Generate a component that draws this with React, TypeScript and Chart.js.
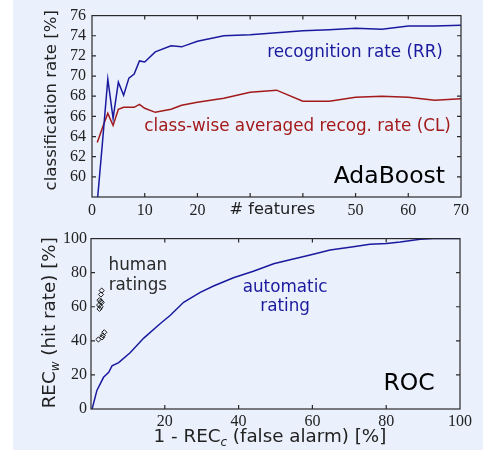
import React, { useEffect, useRef } from 'react';
import { Chart, registerables } from 'chart.js';
Chart.register(...registerables);

// ---- AdaBoost panel data ----
const features = [1, 2, 3, 4, 5, 6, 7, 8, 9, 10, 12, 15, 17, 20, 25, 30, 35, 40, 45, 50, 55, 60, 65, 70];
const recognitionRate = [57.5, 63.5, 69.7, 65.8, 69.4, 68.1, 69.8, 70.2, 71.5, 71.4, 72.4, 73.0, 72.9, 73.45, 74.0, 74.1, 74.3, 74.5, 74.6, 74.75, 74.65, 74.97, 74.97, 75.04];
const classwiseRate = [63.4, 64.9, 66.3, 65.1, 66.7, 66.9, 66.9, 66.9, 67.2, 66.8, 66.4, 66.7, 67.1, 67.4, 67.8, 68.4, 68.6, 67.5, 67.5, 67.9, 68.0, 67.9, 67.6, 67.75];
const topYTicksHidden = [58];
const topXTicksHidden = [30, 40];

// ---- ROC panel data ----
const falseAlarm = [0.3, 1.6, 3.4, 4.8, 5.7, 7.5, 10.6, 14.3, 18.8, 21.5, 25.1, 29.6, 33.2, 38.6, 44, 49.5, 53.1, 59.4, 64.8, 71.1, 75.6, 80.1, 83.8, 89.2, 92.8, 100];
const hitRate = [0, 10.9, 18.6, 21.5, 25.3, 27.2, 33, 41.6, 50.2, 55, 62.6, 68.4, 72.2, 77, 80.8, 85.2, 87.2, 90.4, 93.3, 95.2, 96.7, 97.1, 98, 99.6, 100, 100];
const humanFalseAlarm = [2.9, 2.7, 2.3, 2.7, 2.9, 2.2, 2.6, 2.3, 3.6, 3.2, 2.0, 3.0];
const humanHitRate = [69.5, 67.2, 63.8, 63.2, 62.5, 61, 60, 58.8, 45, 43.2, 40.8, 42];
const rocXTicksHidden = [0];

const BLUE = '#1a1a9e';
const RED = '#a31a1a';
const SANS = '"DejaVu Sans", sans-serif';
const SERIF = '"Liberation Serif", serif';
const PAGE_BG = 'linear-gradient(to right, #ffffff 0px, #ffffff 13px, #eaf0fc 13px, #eaf0fc 100%)';

type Part = { t: string; sub?: boolean };

function drawRich(ctx: CanvasRenderingContext2D, parts: Part[], cx: number, cy: number, rot: number, size: number, color: string) {
  ctx.save();
  const fontMain = `${size}px ${SANS}`;
  const fontSub = `italic ${Math.round(size * 0.68)}px ${SANS}`;
  let total = 0;
  const widths = parts.map((p) => {
    ctx.font = p.sub ? fontSub : fontMain;
    const w = ctx.measureText(p.t).width;
    total += w;
    return w;
  });
  ctx.translate(cx, cy);
  ctx.rotate(rot);
  ctx.fillStyle = color;
  ctx.textBaseline = 'middle';
  ctx.textAlign = 'left';
  let x = -total / 2;
  parts.forEach((p, i) => {
    ctx.font = p.sub ? fontSub : fontMain;
    ctx.fillText(p.t, x, p.sub ? size * 0.32 : 0);
    x += widths[i];
  });
  ctx.restore();
}

const frameTicks = {
  id: 'frameTicks',
  afterDatasetsDraw(chart: any) {
    const { ctx, chartArea: a, scales } = chart;
    ctx.save();
    ctx.strokeStyle = '#2a2a2a';
    ctx.lineWidth = 1.2;
    ctx.strokeRect(a.left, a.top, a.right - a.left, a.bottom - a.top);
    const L = 4;
    ctx.beginPath();
    scales.x.ticks.forEach((t: any) => {
      const px = scales.x.getPixelForValue(t.value);
      if (px <= a.left + 1 || px >= a.right - 1) return;
      ctx.moveTo(px, a.bottom); ctx.lineTo(px, a.bottom - L);
      ctx.moveTo(px, a.top); ctx.lineTo(px, a.top + L);
    });
    scales.y.ticks.forEach((t: any) => {
      const py = scales.y.getPixelForValue(t.value);
      if (py <= a.top + 1 || py >= a.bottom - 1) return;
      ctx.moveTo(a.left, py); ctx.lineTo(a.left + L, py);
      ctx.moveTo(a.right, py); ctx.lineTo(a.right - L, py);
    });
    ctx.stroke();
    ctx.restore();
  },
};

function makeTextPlugin(draw: (chart: any) => void) {
  return { id: 'texts', afterDraw: draw };
}

const tickFont = { family: SERIF, size: 16 };

function TopChart() {
  const ref = useRef<HTMLCanvasElement>(null);
  useEffect(() => {
    const textPlugin = makeTextPlugin((chart: any) => {
      const { ctx, scales, chartArea: a } = chart;
      const x = scales.x, y = scales.y;
      ctx.save();
      ctx.textAlign = 'center';
      ctx.textBaseline = 'middle';
      ctx.font = `16.8px ${SANS}`;
      ctx.fillStyle = BLUE;
      ctx.fillText('recognition rate (RR)', x.getPixelForValue(49.9), y.getPixelForValue(72.35));
      ctx.fillStyle = RED;
      ctx.fillText('class-wise averaged recog. rate (CL)', x.getPixelForValue(39.0), y.getPixelForValue(64.95));
      ctx.fillStyle = '#000';
      ctx.font = `23.5px ${SANS}`;
      ctx.fillText('AdaBoost', x.getPixelForValue(56.4), y.getPixelForValue(59.95));
      ctx.fillStyle = '#222';
      ctx.font = `16.2px ${SANS}`;
      ctx.fillText('# features', x.getPixelForValue(34.2), a.bottom + 13);
      ctx.restore();
      drawRich(ctx, [{ t: 'classification rate [%]' }], a.left - 40, y.getPixelForValue(67.6), -Math.PI / 2, 16.6, '#222');
    });
    const chart = new Chart(ref.current!, {
      type: 'line',
      data: {
        datasets: [
          { data: features.map((f, i) => ({ x: f, y: recognitionRate[i] })), borderColor: BLUE, borderWidth: 1.5, pointRadius: 0, tension: 0 },
          { data: features.map((f, i) => ({ x: f, y: classwiseRate[i] })), borderColor: RED, borderWidth: 1.5, pointRadius: 0, tension: 0 },
        ],
      },
      options: {
        animation: false,
        responsive: false,
        layout: { padding: { left: 0, right: 22, top: 15, bottom: 0 } },
        plugins: { legend: { display: false }, tooltip: { enabled: false } },
        scales: {
          x: {
            type: 'linear', min: 0, max: 70,
            grid: { display: false, drawTicks: false }, border: { display: false },
            ticks: { stepSize: 10, padding: 4, font: tickFont, color: '#222', maxRotation: 0, autoSkip: false,
              callback: (v: any) => (topXTicksHidden.includes(v) ? '' : String(v)) },
            afterFit: (s: any) => { s.height = 28; },
          },
          y: {
            min: 58, max: 76,
            grid: { display: false, drawTicks: false }, border: { display: false },
            ticks: { stepSize: 2, padding: 6, font: tickFont, color: '#222', autoSkip: false,
              callback: (v: any) => (topYTicksHidden.includes(v) ? '' : String(v)) },
            afterFit: (s: any) => { s.width = 92; },
          },
        },
      },
      plugins: [frameTicks, textPlugin],
    } as any);
    return () => chart.destroy();
  }, []);
  return <canvas ref={ref} width={483} height={225} style={{ position: 'absolute', left: 0, top: 0, width: 483, height: 225 }} />;
}

function RocChart() {
  const ref = useRef<HTMLCanvasElement>(null);
  useEffect(() => {
    const textPlugin = makeTextPlugin((chart: any) => {
      const { ctx, scales, chartArea: a } = chart;
      const x = scales.x, y = scales.y;
      ctx.save();
      ctx.textAlign = 'center';
      ctx.textBaseline = 'middle';
      ctx.font = `16.8px ${SANS}`;
      ctx.fillStyle = '#2a2a2a';
      ctx.fillText('human', x.getPixelForValue(12.7), y.getPixelForValue(83.9));
      ctx.fillText('ratings', x.getPixelForValue(12.7), y.getPixelForValue(72.4));
      ctx.fillStyle = BLUE;
      ctx.fillText('automatic', x.getPixelForValue(52.6), y.getPixelForValue(71.3));
      ctx.fillText('rating', x.getPixelForValue(52.6), y.getPixelForValue(59.8));
      ctx.fillStyle = '#000';
      ctx.font = `23.5px ${SANS}`;
      ctx.fillText('ROC', x.getPixelForValue(86.2), y.getPixelForValue(14.9));
      ctx.restore();
      drawRich(ctx, [{ t: 'REC' }, { t: 'w', sub: true }, { t: ' (hit rate) [%]' }], a.left - 41, y.getPixelForValue(50.6), -Math.PI / 2, 18.3, '#222');
      drawRich(ctx, [{ t: '1 - REC' }, { t: 'c', sub: true }, { t: ' (false alarm) [%]' }], x.getPixelForValue(48.5), a.bottom + 28, 0, 18.3, '#222');
    });
    const chart = new Chart(ref.current!, {
      type: 'scatter',
      data: {
        datasets: [
          { data: falseAlarm.map((f, i) => ({ x: f, y: hitRate[i] })), showLine: true, borderColor: BLUE, borderWidth: 1.5, pointRadius: 0, tension: 0 },
          { data: humanFalseAlarm.map((f, i) => ({ x: f, y: humanHitRate[i] })), showLine: false, pointStyle: 'rectRot', pointRadius: 2.6, borderColor: '#1a1a1a', borderWidth: 1, backgroundColor: 'rgba(0,0,0,0)' },
        ],
      },
      options: {
        animation: false,
        responsive: false,
        layout: { padding: { left: 0, right: 23, top: 10, bottom: 0 } },
        plugins: { legend: { display: false }, tooltip: { enabled: false } },
        scales: {
          x: {
            type: 'linear', min: 0, max: 100,
            grid: { display: false, drawTicks: false }, border: { display: false },
            ticks: { stepSize: 20, padding: 3, font: tickFont, color: '#222', maxRotation: 0, autoSkip: false,
              callback: (v: any) => (rocXTicksHidden.includes(v) ? '' : String(v)) },
            afterFit: (s: any) => { s.height = 41; },
          },
          y: {
            min: 0, max: 100,
            grid: { display: false, drawTicks: false }, border: { display: false },
            ticks: { stepSize: 20, padding: 4, font: tickFont, color: '#222', autoSkip: false },
            afterFit: (s: any) => { s.width = 91; },
          },
        },
      },
      plugins: [frameTicks, textPlugin],
    } as any);
    return () => chart.destroy();
  }, []);
  return <canvas ref={ref} width={483} height={225} style={{ position: 'absolute', left: 0, top: 225, width: 483, height: 225 }} />;
}

export default function App() {
  useEffect(() => {
    const prevHtml = document.documentElement.style.background;
    const prevBody = document.body.style.background;
    document.documentElement.style.background = PAGE_BG;
    document.body.style.background = PAGE_BG;
    return () => {
      document.documentElement.style.background = prevHtml;
      document.body.style.background = prevBody;
    };
  }, []);
  return (
    <div style={{ position: 'fixed', left: 0, top: 0, width: '100vw', height: '100vh', minWidth: 483, minHeight: 450, background: PAGE_BG, overflow: 'hidden' }}>
      <TopChart />
      <RocChart />
    </div>
  );
}
